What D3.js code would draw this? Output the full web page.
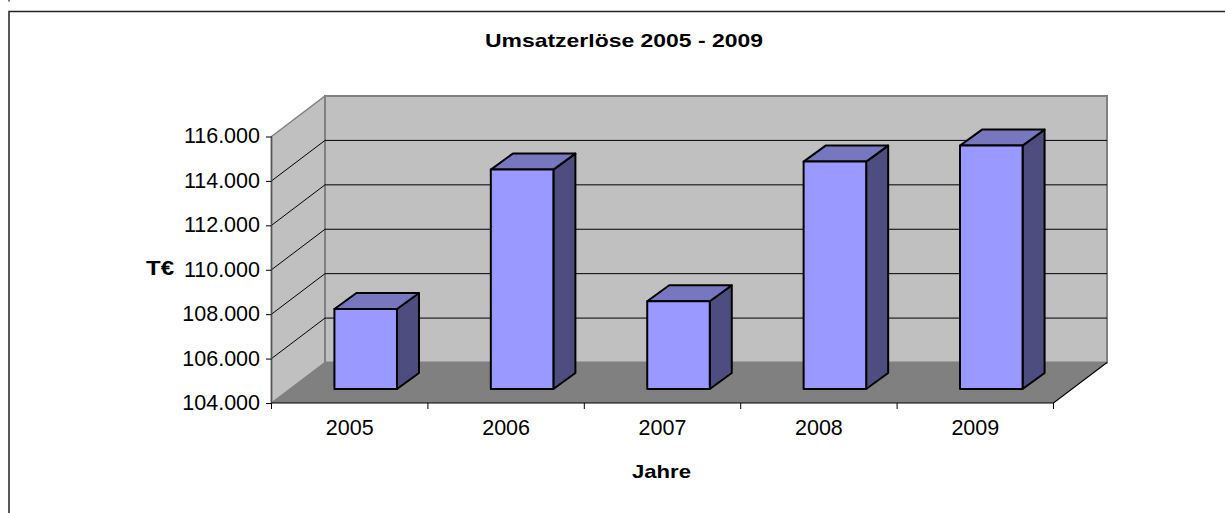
<!DOCTYPE html>
<html>
<head>
<meta charset="utf-8">
<script src="https://cdn.jsdelivr.net/npm/d3@7"></script>
<style>
  html, body { margin: 0; padding: 0; background: #fff; }
  svg { display: block; }
  text { font-family: "Liberation Sans", Arial, sans-serif; fill: #000; }
</style>
</head>
<body>
<div id="chart"></div>
<script>
const years = ["2005", "2006", "2007", "2008", "2009"];
const revenue = [107600, 113880, 107950, 114240, 114960];
const yTicks = [104000, 106000, 108000, 110000, 112000, 114000, 116000];
const titleText = "Umsatzerlöse 2005 - 2009";
const xTitle = "Jahre";
const yTitle = "T€";

const width = 1225;
const height = 513;

// offset from the front plane to the back wall
const depth = { x: 53.5, y: -40.5 };
// bars sit a bit behind the front plane
const barOffset = { x: 16, y: -14 };
const barDepth = { x: 22, y: -16 };

const svg = d3.select("#chart").append("svg")
  .attr("width", width)
  .attr("height", height);

const x = d3.scaleBand().domain(years).range([271.5, 1053.5]);
const y = d3.scaleLinear().domain([104000, 116000]).range([403, 136.5]);
const germanFormat = d3.formatLocale({ decimal: ",", thousands: ".", grouping: [3], currency: ["", "€"] }).format(",d");

const x0 = x.range()[0];
const x1 = x.range()[1];
const yBottom = y.domain()[0];
const yTop = y.domain()[1];

const poly = (pts) => d3.line()(pts) + "Z";

// outer frame, only top and left are visible
svg.append("path")
  .attr("d", d3.line()([[9, height], [9, 11.5], [width, 11.5]]))
  .attr("fill", "none").attr("stroke", "#222").attr("stroke-width", 1.5);
svg.append("line")
  .attr("x1", 9).attr("x2", 9).attr("y1", 0).attr("y2", 1.5)
  .attr("stroke", "#444").attr("stroke-width", 1.5);

// walls and floor
svg.append("path")
  .attr("d", poly([[x0, y(yTop)], [x0 + depth.x, y(yTop) + depth.y], [x0 + depth.x, y(yBottom) + depth.y], [x0, y(yBottom)]]))
  .attr("fill", "#c0c0c0").attr("stroke", "#808080").attr("stroke-width", 1.5);
svg.append("path")
  .attr("d", poly([[x0 + depth.x, y(yTop) + depth.y], [x1 + depth.x, y(yTop) + depth.y], [x1 + depth.x, y(yBottom) + depth.y], [x0 + depth.x, y(yBottom) + depth.y]]))
  .attr("fill", "#c0c0c0").attr("stroke", "#808080").attr("stroke-width", 2);
svg.append("path")
  .attr("d", poly([[x0, y(yBottom)], [x0 + depth.x, y(yBottom) + depth.y], [x1 + depth.x, y(yBottom) + depth.y], [x1, y(yBottom)]]))
  .attr("fill", "#808080");

// gridlines
svg.append("g").selectAll("path")
  .data(yTicks.filter((d) => d !== yBottom && d !== yTop))
  .enter().append("path")
  .attr("d", (d) => d3.line()([[x0, y(d)], [x0 + depth.x, y(d) + depth.y], [x1 + depth.x, y(d) + depth.y]]))
  .attr("fill", "none").attr("stroke", "#000").attr("stroke-width", 1);

// front edges
svg.append("line")
  .attr("x1", x0).attr("x2", x0).attr("y1", y(yTop)).attr("y2", y(yBottom))
  .attr("stroke", "#555").attr("stroke-width", 1.5);
svg.append("path")
  .attr("d", d3.line()([[x0, y(yBottom)], [x1, y(yBottom)], [x1 + depth.x, y(yBottom) + depth.y]]))
  .attr("fill", "none").attr("stroke", "#000").attr("stroke-width", 1.2);

// bars
const barWidth = x.bandwidth() * 0.4;
const bars = svg.append("g").selectAll("g")
  .data(years.map((year, i) => ({ year, value: revenue[i] })))
  .enter().append("g")
  .attr("stroke", "#000").attr("stroke-width", 2).attr("stroke-linejoin", "round");
const left = (d) => x(d.year) + x.bandwidth() / 2 + barOffset.x - barWidth / 2;
const top_ = (d) => y(d.value) + barOffset.y;
const base = y(yBottom) + barOffset.y;

bars.append("path")
  .attr("fill", "#4d4d80")
  .attr("d", (d) => poly([
    [left(d) + barWidth, top_(d)],
    [left(d) + barWidth + barDepth.x, top_(d) + barDepth.y],
    [left(d) + barWidth + barDepth.x, base + barDepth.y],
    [left(d) + barWidth, base]
  ]));
bars.append("path")
  .attr("fill", "#7777bf")
  .attr("d", (d) => poly([
    [left(d), top_(d)],
    [left(d) + barDepth.x, top_(d) + barDepth.y],
    [left(d) + barWidth + barDepth.x, top_(d) + barDepth.y],
    [left(d) + barWidth, top_(d)]
  ]));
bars.append("rect")
  .attr("fill", "#9999ff")
  .attr("x", left)
  .attr("y", top_)
  .attr("width", barWidth)
  .attr("height", (d) => base - top_(d));

// axes
const yAxis = d3.axisLeft(y).tickValues(yTicks).tickFormat(germanFormat).tickSize(5.5).tickPadding(6);
const yG = svg.append("g").attr("transform", `translate(${x0},0)`).call(yAxis);
yG.select(".domain").remove();
yG.selectAll("text").style("font-size", "21.5px").attr("dy", "0.3em");
yG.selectAll("line").attr("stroke", "#000");

const xAxis = d3.axisBottom(x).tickSize(0).tickPadding(17);
const xG = svg.append("g").attr("transform", `translate(0,${y(yBottom)})`).call(xAxis);
xG.select(".domain").remove();
xG.selectAll("text").style("font-size", "21.5px").attr("dy", "0.69em");

// category ticks go on the band edges
svg.append("g").selectAll("line")
  .data(years.concat("end"))
  .enter().append("line")
  .attr("x1", (d, i) => x0 + i * x.step())
  .attr("x2", (d, i) => x0 + i * x.step())
  .attr("y1", y(yBottom))
  .attr("y2", y(yBottom) + 6)
  .attr("stroke", "#000");

// titles, the original is stretched sideways
const addTitle = (text, xPos, yPos, size, length) =>
  svg.append("text").text(text)
    .attr("x", xPos).attr("y", yPos)
    .attr("font-weight", "bold").style("font-size", size)
    .attr("textLength", length).attr("lengthAdjust", "spacingAndGlyphs");

addTitle(titleText, 485, 47, "19px", 278);
addTitle(xTitle, 632, 478, "19px", 59);
addTitle(yTitle, 146, 275, "20px", 28);
</script>
</body>
</html>
